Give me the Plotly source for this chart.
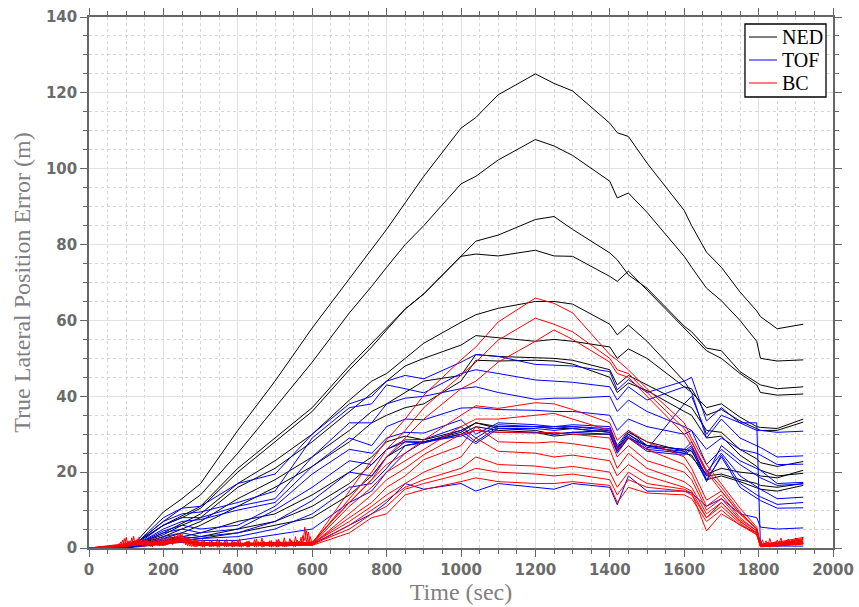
import plotly.graph_objects as go

# ---------------- data ----------------
T = [0, 90, 130, 200, 250, 300, 400, 500, 600, 700, 760, 800, 850, 900, 1000, 1040,
     1100, 1200, 1250, 1300, 1400, 1420, 1450, 1500, 1600, 1620, 1660, 1700, 1750,
     1795, 1805, 1850, 1920]

# NED (black)
ned1 = [0, 0, 2, 9.5, 13, 17, 31, 44, 58, 71, 78.5, 84, 91, 98, 110.7, 113.5, 119.5, 125, 122.5, 120.5, 112, 109.5, 108.5, 101.5, 89, 85, 78, 74, 67.5, 62.5, 61, 57.8, 59]
ned2 = [0, 0, 1.5, 7, 10.5, 14, 25, 37, 49, 62, 69, 74, 80, 85, 96, 98, 102.3, 107.7, 106, 103.5, 96.7, 92.3, 93.6, 88.5, 76.9, 74, 68.5, 65.2, 60, 54.5, 50, 49.3, 49.6]
ned3 = [0, 0, 1.5, 6, 8.5, 11, 21, 29, 37, 48, 54, 58, 63, 67, 77, 80.9, 82.5, 86.6, 87.4, 84, 77.8, 76, 72, 68.5, 58.5, 57, 52.7, 52, 46.5, 43.5, 43, 42, 42.5]
ned4 = [0, 0, 1.5, 6, 8, 10.5, 20, 28, 36, 47, 53, 57.5, 63, 67, 76.9, 77.5, 77, 78.5, 77, 76.9, 71.6, 70.3, 73, 68, 58, 56, 52, 50, 46, 43, 41, 40.3, 40.6]
ned5 = [0, 0, 1, 4, 6.5, 9, 17, 23, 30, 39, 44, 46, 50, 54, 59.5, 61.5, 63.2, 65, 65, 64.3, 59, 56.2, 58.8, 54.5, 44, 41, 37, 38, 34.5, 32, 31.8, 31.5, 34]
ned6 = [0, 0, 1, 3.5, 6, 8, 16, 21, 28, 36, 41, 44, 48, 50, 53.5, 56, 55.5, 54.5, 55, 54.5, 53, 50, 52.5, 50, 42.5, 42, 35, 36.5, 33.5, 31.5, 31, 31, 33.2]
ned7 = [0, 0, 1, 3, 5, 7, 13, 18, 24, 31, 36, 38, 41, 44, 45.5, 51, 50.5, 50.2, 50, 49.5, 47, 43, 45.5, 43, 38, 37, 31, 30.5, 26, 23.5, 22.5, 21.5, 22.8]
ned8 = [0, 0, 0.8, 2.5, 4, 6, 11, 16, 21.5, 28, 33, 35, 37, 38, 44, 49.5, 49.3, 49.5, 49.3, 48.5, 45, 41, 43.5, 41.5, 36, 35, 29, 29.5, 24.5, 21.5, 20.5, 19, 19.7]
ned9 = [0, 0, 0.5, 2, 3, 4, 7, 9, 14, 20, 24, 28, 29.5, 28.5, 31, 33, 32, 32, 31.5, 31.5, 30.5, 26, 30, 27, 26, 25.5, 19, 19.5, 18, 17, 16.5, 16, 17]
ned10 = [0, 0, 0.5, 1.5, 2.5, 3, 5, 7, 11, 17, 22, 26, 28, 28, 30.5, 33, 31.5, 31, 30, 30.5, 31, 26.5, 30.5, 28, 25.5, 24, 19.5, 21, 20, 19.5, 19, 18.5, 20.5]
ned11 = [0, 0, 0.5, 1.5, 2, 2.5, 4, 6, 8, 14, 19, 24, 27, 28, 30, 32, 31, 30.5, 29.5, 30, 30, 25.5, 29, 27, 25, 24.5, 18, 19, 17.5, 16, 15.5, 15, 16.5]

# TOF (blue)
tof1 = [0, 0, 1.5, 8, 10.5, 11, 17, 19.5, 30, 38, 40, 44, 45.5, 44.6, 49, 51, 50.5, 48.4, 48.2, 48, 46.5, 41.7, 44.4, 41, 44, 45, 33.5, 37, 33, 31, 31, 30.5, 30.8]
tof2 = [0, 0, 1.5, 7, 9, 9.5, 12, 15, 29, 37, 38, 43, 42, 40.9, 46, 47, 46, 44.3, 44, 43.7, 42.5, 39, 42.5, 39, 42.5, 41, 29, 34, 29, 27, 26.5, 24, 24.3]
tof3 = [0, 0, 1, 6, 8, 8, 11, 13, 24, 33, 33, 38, 39.5, 40, 42, 42.5, 41, 39.2, 39.5, 39.5, 40, 36, 39, 36, 32, 31, 26, 29, 26, 25, 24.5, 22, 22.1]
tof4 = [0, 0, 1, 5, 7, 7.5, 10, 12, 21.5, 29, 27, 32, 34, 33.8, 36.9, 37, 36.5, 36.3, 36, 36, 35, 31, 34, 32, 30, 31, 22, 26, 22, 19, 18.5, 16.5, 16.9]
tof5 = [0, 0, 1, 4.5, 6, 5, 6, 11, 19.5, 26, 25, 29, 30.5, 30.3, 33.8, 30, 33, 32.5, 32, 32.5, 32, 27, 31, 27, 26, 28, 20, 25, 19, 16, 15.5, 13, 13.4]
tof6 = [0, 0, 0.8, 4, 5, 4, 5, 10, 16, 23, 22, 26, 28.5, 28.6, 32, 29, 32.5, 32, 32, 32, 31.5, 26, 30, 26.5, 25.5, 27, 18, 24, 16, 13, 12.5, 10.5, 10.6]
tof7 = [0, 0, 0.5, 3, 4, 3, 4, 7, 12.5, 20, 19, 24, 28, 27.7, 31, 28, 32, 32, 31.5, 32, 31, 26.5, 29, 26, 25, 26.5, 19, 27, 23, 21, 20.5, 17, 17.3]
tof8 = [0, 0, 0.5, 2.5, 3, 2.5, 3, 5, 9, 16, 17, 21, 27, 27.7, 30, 27.5, 31.5, 31.5, 31, 31.5, 30.5, 25.5, 29.5, 26, 38, 40, 30, 35, 33, 33, 0.5, 0.5, 0.5]
tof9 = [0, 0, 0.3, 1, 1.5, 1, 1, 1, 1, 6, 9, 12, 17, 15.5, 17, 15, 17, 16, 15.5, 17, 16, 11.4, 19, 15, 15, 14.5, 11, 13, 9, 8, 5.5, 5, 5.3]
tof10 = [0, 0, 0.5, 2, 2.5, 2, 2, 3.5, 5, 12, 15, 20, 25, 28, 29.5, 31, 30.5, 30.5, 30, 30.5, 30, 25, 29, 25.5, 24.5, 26, 17.5, 24.5, 17, 14, 13.5, 11.5, 12]

# BC (red)
bc1 = [0, 1, 1.5, 1, 2.5, 1, 0.8, 1, 1.2, 15, 23, 28.5, 34, 40.3, 49.6, 53, 59.6, 65.9, 64.5, 62, 51, 49.5, 47, 42, 33, 29, 22, 17, 10.5, 5.5, 1, 1.5, 2.8]
bc2 = [0, 0.5, 1, 1.5, 2, 0.8, 1, 0.7, 1, 13, 20, 26, 31, 37, 45.6, 49, 54.8, 60.6, 59, 57, 50, 47, 46, 41, 31.5, 28, 20.5, 16, 9.5, 5, 0.8, 1.2, 2.2]
bc3 = [0, 0.8, 2, 1.2, 3, 1.5, 1.2, 1.5, 1.5, 12, 18, 24, 29, 34, 42, 44, 49, 54.5, 57.5, 55, 49, 46, 45, 40, 30, 27, 20, 15, 9, 5, 0.8, 1, 1.8]
bc4 = [0, 0.5, 1.2, 0.8, 2.2, 1, 0.6, 1.2, 1.5, 12, 18, 22, 25, 28.5, 35, 37.5, 36.8, 38.3, 38, 36.5, 33, 28.4, 31, 28, 24, 21, 12.6, 15, 9, 5, 1, 1.2, 2.5]
bc5 = [0, 0.4, 1, 1.4, 1.8, 0.7, 1, 0.8, 1, 11, 16, 20, 23, 26, 32, 34, 34, 35, 35.5, 34, 31, 26, 29, 26, 22, 19.5, 11, 14, 8, 4.5, 0.8, 1, 2.2]
bc6 = [0, 0.6, 1.3, 1, 2.6, 1.2, 0.9, 1.1, 0.9, 9, 14, 18, 21, 24.6, 30, 31, 30.5, 30.3, 30.5, 30, 29, 24, 27, 23, 20, 18, 10, 13, 7.5, 4.5, 0.6, 0.9, 1.8]
bc7 = [0, 0.3, 0.9, 1.6, 2, 0.9, 1.3, 0.6, 1.1, 8, 12, 16, 19, 23.3, 27, 32, 28, 27.7, 28, 27.5, 26, 21, 25, 21, 17.5, 16, 9, 12, 7, 4, 0.5, 0.8, 1.5]
bc8 = [0, 0.7, 1.5, 0.9, 2.4, 1.3, 0.7, 1.3, 1.2, 7, 11, 14, 17, 20, 24, 29, 25.5, 25, 24, 24.5, 23, 19, 22, 19, 16, 15, 8, 11, 6.5, 3.5, 0.4, 0.7, 1.2]
bc9 = [0, 0.5, 1.1, 1.3, 1.6, 0.8, 1.1, 0.9, 0.8, 6, 10, 12.5, 16, 18, 21, 24, 22, 21.6, 21, 21.5, 20, 16, 20, 17, 15.5, 14.5, 4.5, 9, 6, 3.5, 0.3, 0.6, 1]
bc10 = [0, 0.4, 1.4, 0.7, 2.1, 1, 0.8, 1.4, 1, 5, 9, 11, 15.5, 17, 19.5, 21, 20, 19.5, 19, 19.5, 18, 14, 18, 16, 15, 14, 8, 12, 7, 4, 0.5, 0.8, 1.4]
bc11 = [0, 0.6, 1, 1.5, 1.9, 0.6, 1, 0.7, 0.7, 4, 8, 9, 14, 15.4, 17.5, 18.5, 17.5, 17, 17, 17.5, 16.5, 12, 16, 14.5, 14, 13, 7, 10, 6, 4, 0.4, 0.6, 1.2]

# BC high-frequency jitter before 600 s (5 s samples from 80 s) and after 1800 s (5 s samples from 1805 s)
noise_start, noise_step = 80, 5
bc_noise_a = [1.2, 0.3, 2.1, 0.6, 2.8, 0.4, 1.9, 0.7, 3.1, 0.5,
              2.4, 0.8, 1.7, 0.3, 2.2, 0.9, 1.5, 0.4, 2.6, 1.0,
              1.8, 0.6, 2.3, 1.1, 2.9, 0.7, 2.0, 1.3, 3.0, 0.9,
              3.4, 1.5, 4.0, 2.2, 3.6, 1.2, 2.4, 0.6, 1.8, 0.4,
              1.6, 0.3, 2.1, 0.5, 1.4, 0.2, 1.9, 0.6, 1.2, 0.3,
              2.0, 0.4, 1.5, 0.2, 1.8, 0.5, 1.1, 0.3, 2.2, 0.4,
              1.3, 0.2, 1.7, 0.5, 2.1, 0.3, 1.0, 0.4, 1.6, 0.2,
              1.9, 0.5, 1.2, 0.3, 2.4, 0.4, 1.5, 0.2, 1.8, 0.6,
              1.1, 0.3, 2.0, 0.4, 1.4, 0.2, 2.3, 0.5, 1.2, 0.3,
              1.7, 0.4, 2.5, 0.6, 1.3, 0.3, 2.1, 0.5, 2.8, 0.7,
              5.5, 1.2, 4.2, 0.8, 0.6]
bc_noise_b = [0.4, 1.6, 0.2, 2.5, 0.8, 1.9, 0.3, 2.7, 0.6, 1.4,
              0.5, 2.9, 0.7, 1.8, 0.4, 2.3, 0.6, 1.6, 0.3, 2.0,
              0.8, 2.6, 0.5, 1.7, 1.0, 2.4, 0.9, 2.8, 1.2, 2.1,
              1.8, 3.2, 1.4, 3.8, 1.6, 2.7, 0.8, 2.0, 0.5, 1.5,
              0.4, 1.8, 0.3, 1.5, 0.6, 2.2, 0.2, 1.3, 0.5, 1.7,
              0.3, 1.6, 0.5, 2.3, 0.2, 1.4, 0.6, 1.9, 0.3, 1.2,
              0.5, 2.0, 0.3, 1.5, 0.4, 2.4, 0.2, 1.3, 0.6, 1.8,
              0.2, 1.4, 0.6, 2.2, 0.3, 1.7, 0.5, 2.6, 0.3, 1.3,
              0.6, 1.9, 0.2, 1.5, 0.5, 2.2, 0.3, 1.6, 0.4, 2.7,
              0.3, 1.4, 0.5, 2.0, 0.4, 3.0, 0.6, 1.8, 0.9, 3.3,
              2.0, 4.5, 1.5, 3.0, 1.0]
tail_start, tail_step = 1805, 5
bc_tail_a = [0.5, 2.2, 0.8, 1.9, 0.4, 2.5, 1.0, 1.6, 0.7, 2.1, 1.2, 2.6,
             0.9, 1.8, 1.4, 2.4, 1.1, 2.0, 1.5, 2.7, 1.3, 2.3, 1.8, 2.9]
bc_tail_b = [1.8, 0.3, 1.2, 0.6, 1.5, 0.2, 1.0, 0.8, 1.7, 0.4, 1.3, 0.5,
             1.1, 0.9, 1.6, 0.6, 1.4, 0.8, 1.2, 1.0, 1.5, 0.9, 1.7, 1.1]

NED = [ned1, ned2, ned3, ned4, ned5, ned6, ned7, ned8, ned9, ned10, ned11]
TOF = [tof1, tof2, tof3, tof4, tof5, tof6, tof7, tof8, tof9, tof10]
BC = [bc1, bc2, bc3, bc4, bc5, bc6, bc7, bc8, bc9, bc10, bc11]

legend_names = ["NED", "TOF", "BC"]
legend_colors = ["#000000", "#0000ff", "#ff0000"]

# ---------------- figure ----------------
fig = go.Figure()


def add_series(x, y, name, color):
    fig.add_trace(go.Scatter(x=x, y=y, mode="lines", name=name, showlegend=False,
                             line=dict(color=color, width=1), hoverinfo="skip"))


for s in NED:
    add_series(T, s, "NED", legend_colors[0])
for s in TOF:
    add_series(T, s, "TOF", legend_colors[1])
for s in BC:
    add_series(T, s, "BC", legend_colors[2])

noise_t = [noise_start + noise_step * k for k in range(len(bc_noise_a))]
tail_t = [tail_start + tail_step * k for k in range(len(bc_tail_a))]
for s in (bc_noise_a, bc_noise_b):
    add_series(noise_t, s, "BC", legend_colors[2])
for s in (bc_tail_a, bc_tail_b):
    add_series(tail_t, s, "BC", legend_colors[2])

axis_grey = "#666666"
tick_font = dict(family="DejaVu Sans", size=15, color="#6b6b6b", weight="bold")
title_font = dict(family="Liberation Serif", size=24, color="#808080")

common = dict(showline=True, linecolor=axis_grey, linewidth=1.6, mirror="allticks",
              ticks="outside", ticklen=7, tickwidth=1.2, tickcolor=axis_grey,
              showgrid=True, gridcolor="#e2e2e2", gridwidth=1, zeroline=False,
              tickfont=tick_font, tickprefix="<b>", ticksuffix="</b>")

fig.update_xaxes(range=[0, 2000], tick0=0, dtick=200,
                 minor=dict(dtick=50, ticks="outside", ticklen=4, tickwidth=1,
                            tickcolor=axis_grey, showgrid=True, gridcolor="#d6d6d6",
                            griddash="dot", gridwidth=1),
                 title=dict(text="Time (sec)", font=title_font, standoff=5),
                 **common)
fig.update_yaxes(range=[0, 140], tick0=0, dtick=20,
                 minor=dict(dtick=5, ticks="outside", ticklen=4, tickwidth=1,
                            tickcolor=axis_grey, showgrid=True, gridcolor="#d6d6d6",
                            griddash="dot", gridwidth=1),
                 title=dict(text="True Lateral Position Error (m)", font=title_font, standoff=8),
                 **common)

# legend box drawn in paper coordinates (tight spacing as in the reference)
box = dict(x0=0.8817, x1=0.9906, y0=0.8493, y1=0.9868)
row_y = [0.9623, 0.9190, 0.8757]
shapes = [dict(type="rect", xref="paper", yref="paper", **box,
               line=dict(color="black", width=1.3), fillcolor="white", layer="above")]
annotations = []
for name, color, yy in zip(legend_names, legend_colors, row_y):
    shapes.append(dict(type="line", xref="paper", yref="paper", x0=0.8871, x1=0.9247,
                       y0=yy, y1=yy, line=dict(color=color, width=1), layer="above"))
    annotations.append(dict(xref="paper", yref="paper", x=0.9288, y=yy, text=name,
                            showarrow=False, xanchor="left", yanchor="middle",
                            font=dict(family="Liberation Serif", size=20, color="black")))

fig.update_layout(
    width=859, height=607,
    margin=dict(l=89, r=26, t=17, b=59, autoexpand=False),
    paper_bgcolor="white", plot_bgcolor="white",
    showlegend=False,
    shapes=shapes, annotations=annotations,
)

fig.write_html("out.html")
